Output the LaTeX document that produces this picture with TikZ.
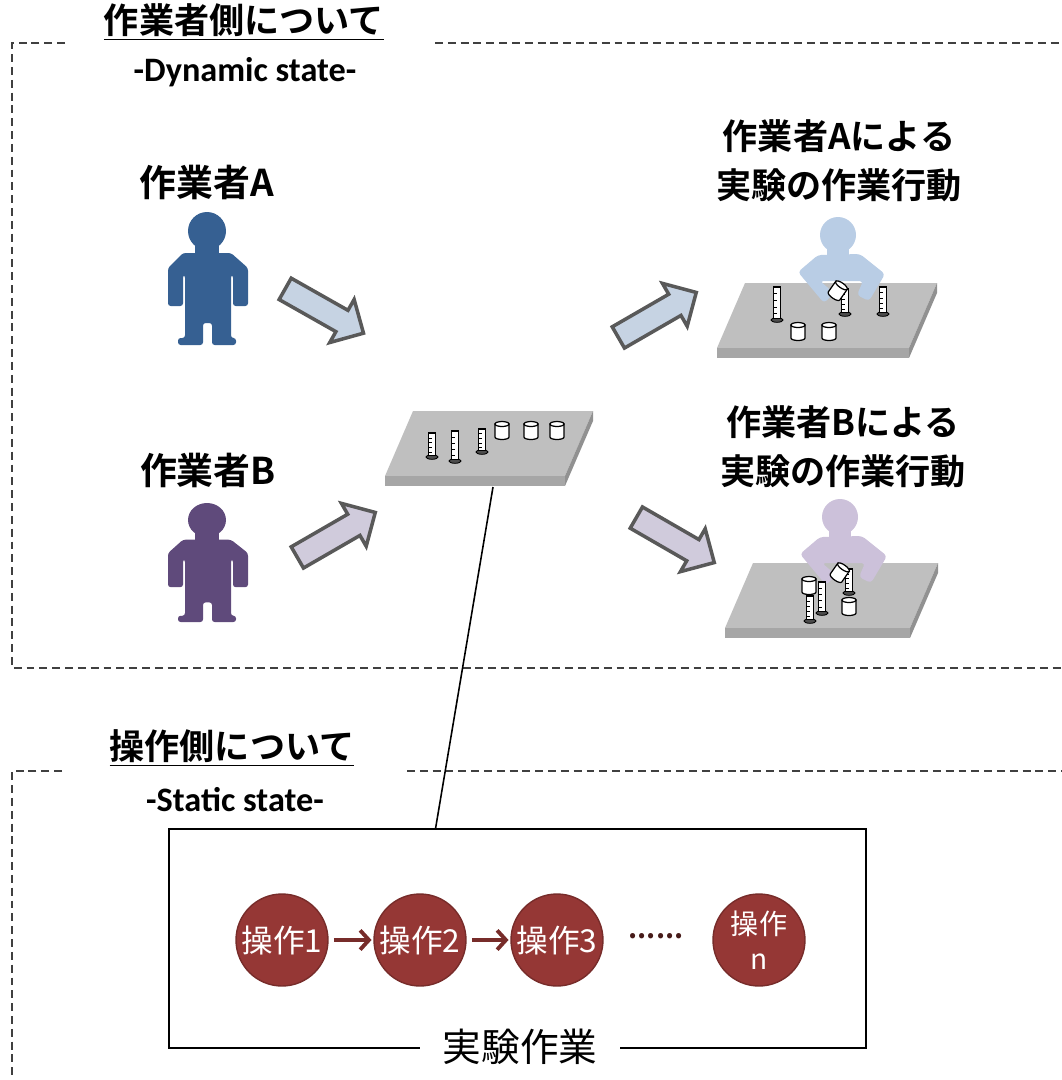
\documentclass[tikz,border=0pt]{standalone}
\usepackage{fontspec}
\setmainfont{Noto Sans CJK JP}[BoldFont={* Bold}]
\newfontfamily\calibri{Carlito}
\usepackage{tikz}
\usetikzlibrary{shapes.arrows, arrows.meta, positioning, calc}

\definecolor{workerA}{RGB}{54, 96, 146}
\definecolor{workerB}{RGB}{95, 74, 123}
\definecolor{ghostA}{RGB}{185, 205, 229}
\definecolor{ghostB}{RGB}{204, 193, 218}
\definecolor{flowblue}{RGB}{198, 211, 227}
\definecolor{flowlav}{RGB}{208, 203, 220}
\definecolor{flowedge}{RGB}{89, 89, 89}
\definecolor{benchtop}{RGB}{191, 191, 191}
\definecolor{benchfront}{RGB}{166, 166, 166}
\definecolor{benchside}{RGB}{145, 145, 145}
\definecolor{opred}{RGB}{149, 55, 53}
\definecolor{opdark}{RGB}{119, 44, 42}
\definecolor{framegray}{RGB}{64, 64, 64}

\tikzset{
  heading/.style={font=\fontsize{20}{24}\selectfont\bfseries},
  subheading/.style={font=\calibri\fontsize{19.5}{22}\selectfont\bfseries},
  actlabel/.style={font=\fontsize{20}{28}\selectfont\bfseries, align=center},
  zonebox/.style={draw=framegray, line width=1.1pt, dash pattern=on 4.5pt off 2.8pt},
  flow/.style={single arrow, draw=flowedge, line width=2pt, inner xsep=0pt, inner ysep=0.21cm,
    minimum height=1.8cm, single arrow head extend=0.25cm, single arrow tip angle=90},
  opstep/.style={circle, fill=opred, draw=opdark, line width=0.8pt, minimum size=1.84cm,
    inner sep=0pt, text=white, align=center, font=\fontsize{18}{19}\selectfont},
  oparrow/.style={draw=opdark, line width=2.2pt, -{Straight Barb[length=5pt, width=11pt]},
    shorten <=3pt, shorten >=1pt},
  % standing figure, origin at the head
  pics/person/.style={code={
    \fill[#1] (0,0) circle[radius=19];
    \fill[#1] (-12,10) rectangle (12,24);
    \fill[#1, rounded corners=1.5pt] (-24,22) -- (24,22) -- (41,37) -- (41,75) -- (26,75)
      -- (26,44) -- (24,44) -- (24,107) -- (29,107) -- (29,114) -- (5,114) -- (5,92)
      -- (-4,92) -- (-4,114) -- (-29,114) -- (-29,107) -- (-22,107) -- (-22,44)
      -- (-24,44) -- (-24,75) -- (-39,75) -- (-39,37) -- cycle;
  }},
  % figure leaning over a bench, origin at the head
  pics/worker/.style={code={
    \fill[#1] (0,0) circle[radius=18];
    \fill[#1] (-11,10) rectangle (11,22);
    \fill[#1, rounded corners=2pt] (-20,20) -- (22,19) -- (47,39) -- (31,66) -- (19,60)
      -- (25,46) -- (-18,46) -- (-4,58) -- (-14,68) -- (-40,37) -- cycle;
  }},
  % bench slab, origin at front left corner of the top
  pics/bench/.style={code={
    \fill[benchtop] (0,0) -- (#1,0) -- (#1+28,-65) -- (28,-65) -- cycle;
    \fill[benchfront] (0,0) rectangle (#1,10);
    \fill[benchside] (#1,0) -- (#1+28,-65) -- (#1+28,-55) -- (#1,10) -- cycle;
  }},
  % measuring cylinder, origin at the foot
  pics/tube/.style={code={
    \draw[fill=black!70, line width=0.5pt] (0,0) ellipse[x radius=6, y radius=2.3];
    \draw[fill=white, line width=0.7pt] (-3.2,-1.5) rectangle (3.2,-#1);
    \foreach \k in {1,...,4}
      \draw[line width=0.3pt] (-3.2,-#1*\k/5) -- (-0.5,-#1*\k/5);
  }},
  pics/beaker/.style={code={
    \draw[fill=white, line width=0.7pt] (-7,-13) -- (-7,0)
      arc[start angle=180, end angle=0, x radius=7, y radius=2.5] -- (7,-13) -- cycle;
    \draw[fill=white, line width=0.7pt] (0,-13) ellipse[x radius=7, y radius=2.5];
  }},
}

\begin{document}
\begin{tikzpicture}[x=0.02cm, y=-0.02cm]
  \useasboundingbox (0,0) rectangle (1062,1080);

  % dashed zones
  \draw[zonebox] (65,43) -- (12,43) -- (12,668) -- (1062,668);
  \draw[zonebox] (435,43) -- (1062,43);
  \draw[zonebox] (62,771) -- (12,771) -- (12,1080);
  \draw[zonebox] (407,771) -- (1062,771);

  % worker side
  \node[heading] (dynTitle) at (244,22) {\underline{作業者側について}};
  \node[subheading] (dynSub) at (245,72) {-Dynamic state-};

  \node[heading, font=\fontsize{21}{24}\selectfont\bfseries] (nameA) at (207,182) {作業者A};
  \pic at (207,231) {person=workerA};
  \node[heading, font=\fontsize{21}{24}\selectfont\bfseries] (nameB) at (208,470) {作業者B};
  \pic[yscale=0.895] at (207,520) {person=workerB};

  \node[flow, fill=flowblue, rotate=-29.5] (flowA) at (319,308) {};
  \node[flow, fill=flowlav, rotate=30] (flowB) at (331,538) {};
  \node[flow, fill=flowblue, rotate=30] (outA) at (652,318) {};
  \node[flow, fill=flowlav, rotate=-30] (outB) at (670,537) {};

  % shared bench
  \pic at (385,476) {bench=180};
  \pic at (432,457) {tube=24};
  \pic at (455,461) {tube=30};
  \pic at (482,452) {tube=23};
  \foreach \bx in {502,531,557}
    \pic at (\bx,437) {beaker};
  \coordinate (benchC) at (493,487);

  % worker A at the bench
  \node[actlabel] (actA) at (839,161) {作業者Aによる\\実験の作業行動};
  \pic at (717,348) {bench=192};
  \pic at (838,235) {worker=ghostA};
  \pic at (777,320) {tube=33};
  \pic at (845,314) {tube=25};
  \pic at (883,314) {tube=27};
  \pic at (798,338) {beaker};
  \pic at (829,338) {beaker};
  \pic[rotate=-35] at (834,296) {beaker};

  % worker B at the bench
  \node[actlabel] (actB) at (843,447) {作業者Bによる\\実験の作業行動};
  \pic at (725,628) {bench=185};
  \pic at (840,517) {worker=ghostB};
  \pic at (809,592) {beaker};
  \pic at (822,613) {tube=31};
  \pic at (810,621) {tube=25};
  \pic at (849,593) {tube=24};
  \pic at (849,613) {beaker};
  \pic[rotate=-35] at (836,578) {beaker};

  % operation side
  \node[heading] (statTitle) at (232,748) {\underline{操作側について}};
  \node[subheading] (statSub) at (235,800) {-Static state-};

  \node[draw, line width=1.1pt, minimum width=13.94cm, minimum height=4.38cm, inner sep=0pt,
    anchor=north west] (opbox) at (168,828) {};
  \node[fill=white, inner xsep=0.45cm, font=\fontsize{22}{24}\selectfont] (opname) at (520,1047) {実験作業};

  \node[opstep] (op1) at (282,940) {操作1};
  \node[opstep] (op2) at (420,940) {操作2};
  \node[opstep] (op3) at (557,940) {操作3};
  \node[font=\bfseries\fontsize{16}{16}\selectfont, text=opdark!60!black] (opdots) at (656,936) {......};
  \node[opstep, font=\fontsize{16}{20}\selectfont] (opn) at (759,940) {操作\\n};
  \draw[oparrow] (op1) -- (op2);
  \draw[oparrow] (op2) -- (op3);

  \draw[line width=0.9pt] (benchC) -- ($(opbox.north west)!0.383!(opbox.north east)$);
\end{tikzpicture}
\end{document}
